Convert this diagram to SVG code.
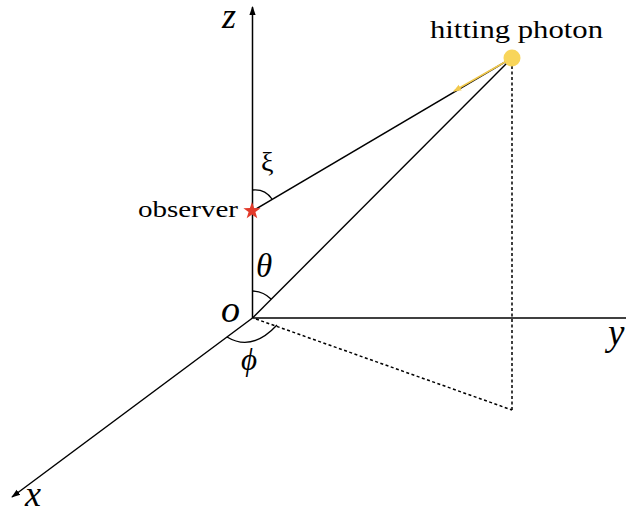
<svg xmlns="http://www.w3.org/2000/svg" width="626" height="511" viewBox="0 0 626 511">
<style>
.ax{stroke:#000;stroke-width:1.5;fill:none}
.ln{stroke:#000;stroke-width:1.4;fill:none}
.dot{stroke:#000;stroke-width:1.5;fill:none;stroke-dasharray:3 2.5}
.arc{stroke:#000;stroke-width:1.3;fill:none}
text{font-family:'Liberation Serif',Tinos,'Times New Roman',Times,serif;fill:#000}
.it{font-style:italic}
</style>
<defs>
<marker id="ah" viewBox="0 0 10 10" refX="9" refY="5" markerWidth="9" markerHeight="9" markerUnits="userSpaceOnUse" orient="auto">
<path d="M0,1.5 L10,5 L0,8.5 Z" fill="#000"/>
</marker>
<marker id="yh" viewBox="0 0 10 10" refX="9" refY="5" markerWidth="8" markerHeight="8" markerUnits="userSpaceOnUse" orient="auto">
<path d="M0,1 L10,5 L0,9 Z" fill="#F2C94C"/>
</marker>
</defs>
<g id="connectors">
<line class="ax" x1="252.5" y1="318" x2="252.5" y2="7" marker-end="url(#ah)"/>
<line class="ax" x1="252.5" y1="318" x2="626" y2="318"/>
<line class="ax" x1="252.5" y1="318" x2="12" y2="497" marker-end="url(#ah)"/>
<line class="ln" x1="252.5" y1="318" x2="512" y2="58"/>
<line class="ln" x1="252.5" y1="211" x2="512" y2="58"/>
<line class="dot" x1="512" y1="66" x2="512" y2="410"/>
<line class="dot" x1="256" y1="319" x2="512" y2="410"/>
<line x1="505" y1="62" x2="454" y2="91" stroke="#F2C94C" stroke-width="1.6" marker-end="url(#yh)"/>
<path class="arc" d="M252.5,190 A21,21 0 0 1 272,199"/>
<path class="arc" d="M252.5,291 A27,27 0 0 1 271,299"/>
<path class="arc" d="M227,337 Q252,352 277,325"/>
</g>
<g id="photon">
<circle cx="512" cy="58" r="8.5" fill="#F8D55A"/>
<text x="430" y="38" font-size="26" textLength="173" lengthAdjust="spacingAndGlyphs">hitting photon</text>
</g>
<g id="observer">
<polygon fill="#E23A2A" points="252,202 254.1,208.1 260.6,208.2 255.4,212.1 257.3,218.3 252,214.6 246.7,218.3 248.6,212.1 243.4,208.2 249.9,208.1"/>
<text x="138" y="217" font-size="24" textLength="100" lengthAdjust="spacingAndGlyphs">observer</text>
</g>
<g id="labels">
<text class="it" x="222" y="28" font-size="36">z</text>
<text class="it" x="608" y="345" font-size="37">y</text>
<text class="it" x="25" y="506" font-size="36">x</text>
<text class="it" x="221" y="322" font-size="38">o</text>
<text class="it" x="256" y="277" font-size="33">θ</text>
<text class="it" x="241" y="370" font-size="31">ϕ</text>
<text x="261" y="171" font-size="28">ξ</text>
</g>
</svg>
